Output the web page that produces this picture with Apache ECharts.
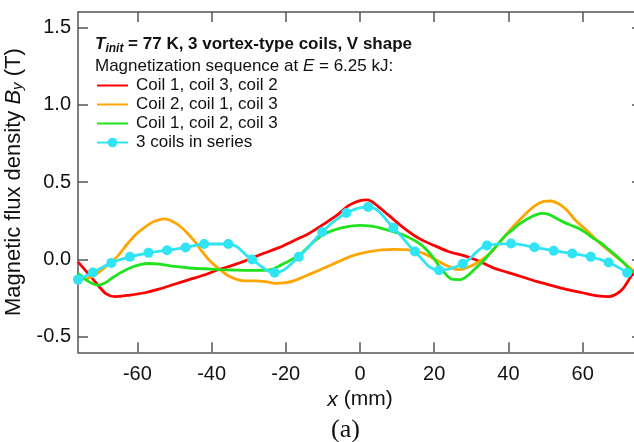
<!DOCTYPE html>
<html>
<head>
<meta charset="utf-8">
<script src="https://cdn.jsdelivr.net/npm/echarts@6/dist/echarts.min.js"></script>
<style>html,body{margin:0;padding:0;background:#fff}#c{width:634px;height:442px}</style>
</head>
<body>
<div id="c"></div>
<script>
// ---- data ----
const seriesNames = ['Coil 1, coil 3, coil 2', 'Coil 2, coil 1, coil 3', 'Coil 1, coil 2, coil 3', '3 coils in series'];
const xTicks = [-60, -40, -20, 0, 20, 40, 60];
const yTicks = [-0.5, 0, 0.5, 1.0, 1.5];

const redX = [-76, -74, -71, -68.5, -66, -62, -58, -54, -50, -46, -42, -38, -34, -30, -26, -22, -18, -14, -10, -6, -3, 0, 2, 4, 8, 12, 16, 20, 24, 28, 32, 36, 40, 44, 48, 52, 56, 60, 64, 67, 69, 71, 73, 74];
const redY = [-0.015, -0.07, -0.155, -0.22, -0.24, -0.23, -0.215, -0.19, -0.16, -0.13, -0.1, -0.065, -0.035, 0.0, 0.04, 0.075, 0.12, 0.165, 0.225, 0.29, 0.35, 0.38, 0.385, 0.36, 0.28, 0.2, 0.135, 0.09, 0.05, 0.025, -0.01, -0.055, -0.085, -0.115, -0.145, -0.17, -0.195, -0.215, -0.235, -0.24, -0.225, -0.185, -0.11, -0.085];

const orangeX = [-76, -73, -70, -67.5, -65, -63, -60.5, -58.5, -56, -54, -52.5, -50.5, -48.5, -46.5, -44.5, -42.5, -40, -38, -35.5, -33, -31, -28, -25, -22.5, -20, -17.5, -15, -12.5, -10, -7.5, -5, -2.5, 0, 3, 6, 9, 12, 15, 18, 21, 23, 25, 26.8, 28.5, 30.5, 33, 35.5, 38, 41, 44, 47, 49.5, 51.5, 53.5, 55.5, 58, 61, 64, 67, 70, 73, 74];
const orangeY = [-0.13, -0.12, -0.075, -0.026, 0.03, 0.092, 0.16, 0.2, 0.24, 0.258, 0.262, 0.245, 0.215, 0.17, 0.115, 0.05, -0.02, -0.06, -0.105, -0.13, -0.138, -0.138, -0.145, -0.155, -0.15, -0.135, -0.11, -0.085, -0.058, -0.032, -0.005, 0.02, 0.038, 0.053, 0.062, 0.066, 0.064, 0.055, 0.03, -0.01, -0.035, -0.058, -0.066, -0.055, -0.035, 0.0, 0.05, 0.12, 0.205, 0.28, 0.345, 0.375, 0.378, 0.36, 0.325, 0.255, 0.19, 0.12, 0.058, 0.0, -0.06, -0.08];

const greenX = [-76, -73, -70.7, -68.5, -66.5, -64.5, -62, -59.5, -57, -54, -50, -46, -42, -38, -34, -30, -26, -24, -22, -20, -18, -16, -14, -12, -10, -8, -6, -4, -2, 0, 3, 6, 9, 12, 14.5, 17, 19.5, 21.5, 23.5, 25, 27, 29, 31, 33, 35, 37, 39, 41, 43, 45, 47, 49, 51, 53, 55, 57, 59, 61, 63, 65, 67, 69, 71, 73, 74];
const greenY = [-0.09, -0.145, -0.166, -0.148, -0.115, -0.085, -0.055, -0.035, -0.026, -0.03, -0.045, -0.055, -0.06, -0.065, -0.068, -0.07, -0.07, -0.065, -0.045, -0.02, 0.005, 0.035, 0.08, 0.125, 0.16, 0.182, 0.198, 0.21, 0.218, 0.221, 0.215, 0.2, 0.18, 0.155, 0.125, 0.085, 0.02, -0.05, -0.105, -0.129, -0.13, -0.105, -0.06, -0.015, 0.04, 0.095, 0.15, 0.19, 0.23, 0.26, 0.285, 0.298, 0.29, 0.265, 0.24, 0.22, 0.2, 0.17, 0.135, 0.105, 0.065, 0.025, -0.02, -0.07, -0.085];

const cyanX = [-76, -72, -67, -62, -57, -52, -47, -42, -35.5, -29.1, -23, -16.5, -10.2, -3.7, 2.2, 9, 14.8, 21.3, 27.7, 34.2, 40.7, 47, 52.2, 57.2, 62.2, 67, 72];
const cyanY = [-0.13, -0.084, -0.022, 0.017, 0.043, 0.06, 0.077, 0.1, 0.1, 0.0, -0.086, 0.017, 0.178, 0.30, 0.34, 0.205, 0.052, -0.07, -0.028, 0.09, 0.103, 0.079, 0.057, 0.039, 0.017, -0.02, -0.085];

const zip = (xs, ys) => xs.map((x, i) => [x, ys[i]]);

const FONT = '"Liberation Sans", Arial, sans-serif';
const axisColor = '#555';
const textColor = '#111';

const chart = echarts.init(document.getElementById('c'), null, {renderer: 'canvas'});

function baseXAxis(pos, main) {
  return {
    type: 'value', position: pos, min: -76, max: 76,
    axisLine: {show: true, onZero: false, lineStyle: {color: axisColor, width: 1.5}},
    axisTick: {show: true, inside: true, length: 10, customValues: xTicks, lineStyle: {color: axisColor, width: 1.5}},
    axisLabel: {show: main, customValues: xTicks, fontSize: 20, fontFamily: FONT, color: textColor, margin: 12},
    splitLine: {show: false}
  };
}
function baseYAxis(pos, main) {
  return {
    type: 'value', position: pos, min: -0.6, max: 1.6,
    axisLine: {show: true, onZero: false, lineStyle: {color: axisColor, width: 1.5}},
    axisTick: {show: true, inside: true, length: 10, customValues: yTicks, lineStyle: {color: axisColor, width: 1.5}},
    axisLabel: {show: main, customValues: yTicks, fontSize: 20, fontFamily: FONT, color: textColor, margin: 7,
      formatter: v => Number(v).toFixed(1)},
    splitLine: {show: false}
  };
}

const xMain = Object.assign(baseXAxis('bottom', true), {
  name: '{i|x} (mm)', nameLocation: 'middle', nameGap: 31,
  nameTextStyle: {fontSize: 21, fontFamily: FONT, color: textColor,
    rich: {i: {fontSize: 21, fontFamily: FONT, fontStyle: 'italic', color: textColor}}}
});
const yMain = Object.assign(baseYAxis('left', true), {
  name: 'Magnetic flux density {i|B}{sub|y} (T)', nameLocation: 'middle', nameGap: 40, nameRotate: 90,
  nameTextStyle: {fontSize: 22, fontFamily: FONT, color: textColor, lineHeight: 24,
    rich: {
      i: {fontSize: 22, fontFamily: FONT, fontStyle: 'italic', color: textColor, lineHeight: 24},
      sub: {fontSize: 15, fontFamily: FONT, fontStyle: 'italic', color: textColor, verticalAlign: 'bottom', lineHeight: 15}
    }}
});

const colors = ['#ff0000', '#ffa500', '#1ee31e', '#30e4f4'];
const LW = 2.8;

const option = {
  animation: false,
  backgroundColor: '#fff',
  grid: {left: 78, top: 12, width: 564, height: 340.3, containLabel: false, outerBoundsMode: 'none'},
  xAxis: [xMain, baseXAxis('top', false)],
  yAxis: [yMain, baseYAxis('right', false)],
  legend: {
    orient: 'vertical', left: 96, top: 76, padding: 0, itemWidth: 31, itemHeight: 12, itemGap: 0,
    textStyle: {fontSize: 17, fontFamily: FONT, color: textColor, lineHeight: 19, padding: [0, 0, 0, 3]},
    data: [
      {name: seriesNames[0], itemStyle: {opacity: 0}},
      {name: seriesNames[1], itemStyle: {opacity: 0}},
      {name: seriesNames[2], itemStyle: {opacity: 0}},
      {name: seriesNames[3]}
    ],
    selectedMode: false
  },
  graphic: [
    {type: 'text', left: 95, top: 36, style: {
      text: '{it|T}{sub|init}{b| = 77 K, 3 vortex-type coils, V shape}',
      rich: {
        it: {fontSize: 17, fontFamily: FONT, fontWeight: 'bold', fontStyle: 'italic', fill: textColor, lineHeight: 21},
        sub: {fontSize: 12, fontFamily: FONT, fontWeight: 'bold', fontStyle: 'italic', fill: textColor, lineHeight: 12, verticalAlign: 'bottom'},
        b: {fontSize: 17, fontFamily: FONT, fontWeight: 'bold', fill: textColor, lineHeight: 21}
      }
    }},
    {type: 'text', left: 95, top: 58, style: {
      text: '{n|Magnetization sequence at }{it|E}{n| = 6.25 kJ:}',
      rich: {
        n: {fontSize: 17, fontFamily: FONT, fill: textColor, lineHeight: 19},
        it: {fontSize: 17, fontFamily: FONT, fontStyle: 'italic', fill: textColor, lineHeight: 19}
      }
    }},
    {type: 'text', left: 331, top: 417, style: {
      text: '(a)', font: '26px "Liberation Serif", "DejaVu Serif", serif', fill: '#111'
    }}
  ],
  series: [
    {name: seriesNames[0], type: 'line', data: zip(redX, redY), smooth: 0.3, symbol: 'none',
      lineStyle: {color: colors[0], width: LW}, itemStyle: {color: colors[0]}},
    {name: seriesNames[1], type: 'line', data: zip(orangeX, orangeY), smooth: 0.3, symbol: 'none',
      lineStyle: {color: colors[1], width: LW}, itemStyle: {color: colors[1]}},
    {name: seriesNames[2], type: 'line', data: zip(greenX, greenY), smooth: 0.3, symbol: 'none',
      lineStyle: {color: colors[2], width: LW}, itemStyle: {color: colors[2]}},
    {name: seriesNames[3], type: 'line', data: zip(cyanX, cyanY), smooth: 0.4, symbol: 'circle', symbolSize: 10,
      showAllSymbol: true,
      lineStyle: {color: colors[3], width: LW}, itemStyle: {color: colors[3]}}
  ]
};
chart.setOption(option);
</script>
</body>
</html>
